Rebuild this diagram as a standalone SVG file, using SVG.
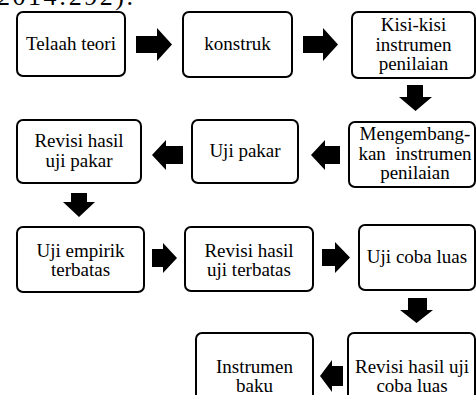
<svg xmlns="http://www.w3.org/2000/svg" width="476" height="395" viewBox="0 0 476 395">
<style>
.box{fill:#fff;stroke:#000;stroke-width:2}
.t{font-family:"Liberation Serif","Times New Roman",serif;font-size:19px;fill:#000;text-anchor:middle}
.ar{fill:#000}
</style>
<rect width="476" height="395" fill="#fff"/>
<text x="-3" y="5" style="font-family:'Liberation Serif',serif;font-size:26px" textLength="136" lengthAdjust="spacing">2014:292).</text>
<g id="n1"><rect class="box" x="17" y="12" width="108" height="64" rx="6"/><text class="t" x="71" y="50">Telaah teori</text></g>
<g id="n2"><rect class="box" x="183" y="12" width="109" height="65" rx="6"/><text class="t" x="237.5" y="50">konstruk</text></g>
<g id="n3"><rect class="box" x="352" y="12" width="123" height="66" rx="6"/><text class="t" x="413.5" y="31">Kisi-kisi</text><text class="t" x="413.5" y="50.5">instrumen</text><text class="t" x="413.5" y="70">penilaian</text></g>
<g id="n4"><rect class="box" x="349" y="122" width="126" height="65" rx="6"/><text class="t" x="415" y="140">Mengembang-</text><text class="t" x="415" y="159.5" word-spacing="5">kan instrumen</text><text class="t" x="415" y="179">penilaian</text></g>
<g id="n5"><rect class="box" x="192" y="120" width="106" height="63" rx="6"/><text class="t" x="245" y="157">Uji pakar</text></g>
<g id="n6"><rect class="box" x="17" y="120" width="124" height="63" rx="6"/><text class="t" x="79" y="147">Revisi hasil</text><text class="t" x="79" y="166.5">uji pakar</text></g>
<g id="n7"><rect class="box" x="17" y="227" width="127" height="65" rx="6"/><text class="t" x="80.5" y="256.5">Uji empirik</text><text class="t" x="80.5" y="275.5">terbatas</text></g>
<g id="n8"><rect class="box" x="185" y="227" width="128" height="64" rx="6"/><text class="t" x="249" y="256.5">Revisi hasil</text><text class="t" x="249" y="275.5">uji terbatas</text></g>
<g id="n9"><rect class="box" x="359" y="225" width="116" height="65" rx="6"/><text class="t" x="417" y="263">Uji coba luas</text></g>
<g id="n10"><rect class="box" x="348" y="333" width="127" height="70" rx="6"/><text class="t" x="412" y="373">Revisi hasil uji</text><text class="t" x="412" y="392">coba luas</text></g>
<g id="n11"><rect class="box" x="196" y="333" width="117" height="70" rx="6"/><text class="t" x="254.5" y="373">Instrumen</text><text class="t" x="254.5" y="392">baku</text></g>
<g id="connectors">
<path class="ar" d="M136,36 H157 V28 L172,44.5 L157,61 V53 H136 Z"/>
<path class="ar" d="M303,36 H323 V28 L338,44.5 L323,61 V53 H303 Z"/>
<path class="ar" d="M407,85 H423 V97 H432 L415.5,111 L399,97 H407 Z"/>
<path class="ar" d="M340,146 H325 V140 L311,155 L325,170 V164 H340 Z"/>
<path class="ar" d="M183,146 H166 V140 L152,155 L166,170 V164 H183 Z"/>
<path class="ar" d="M71,193 H87 V202 H95 L79,217 L63,202 H71 Z"/>
<path class="ar" d="M152,249 H163 V243 L177,258 L163,273 V267 H152 Z"/>
<path class="ar" d="M322,249 H335 V242 L350,257.5 L335,273 V266 H322 Z"/>
<path class="ar" d="M408,298 H427 V310 H433 L416.5,323 L400,310 H408 Z"/>
<path class="ar" d="M343,366 H332 V360 L320,376 L332,392 V386 H343 Z"/>
</g>
</svg>
